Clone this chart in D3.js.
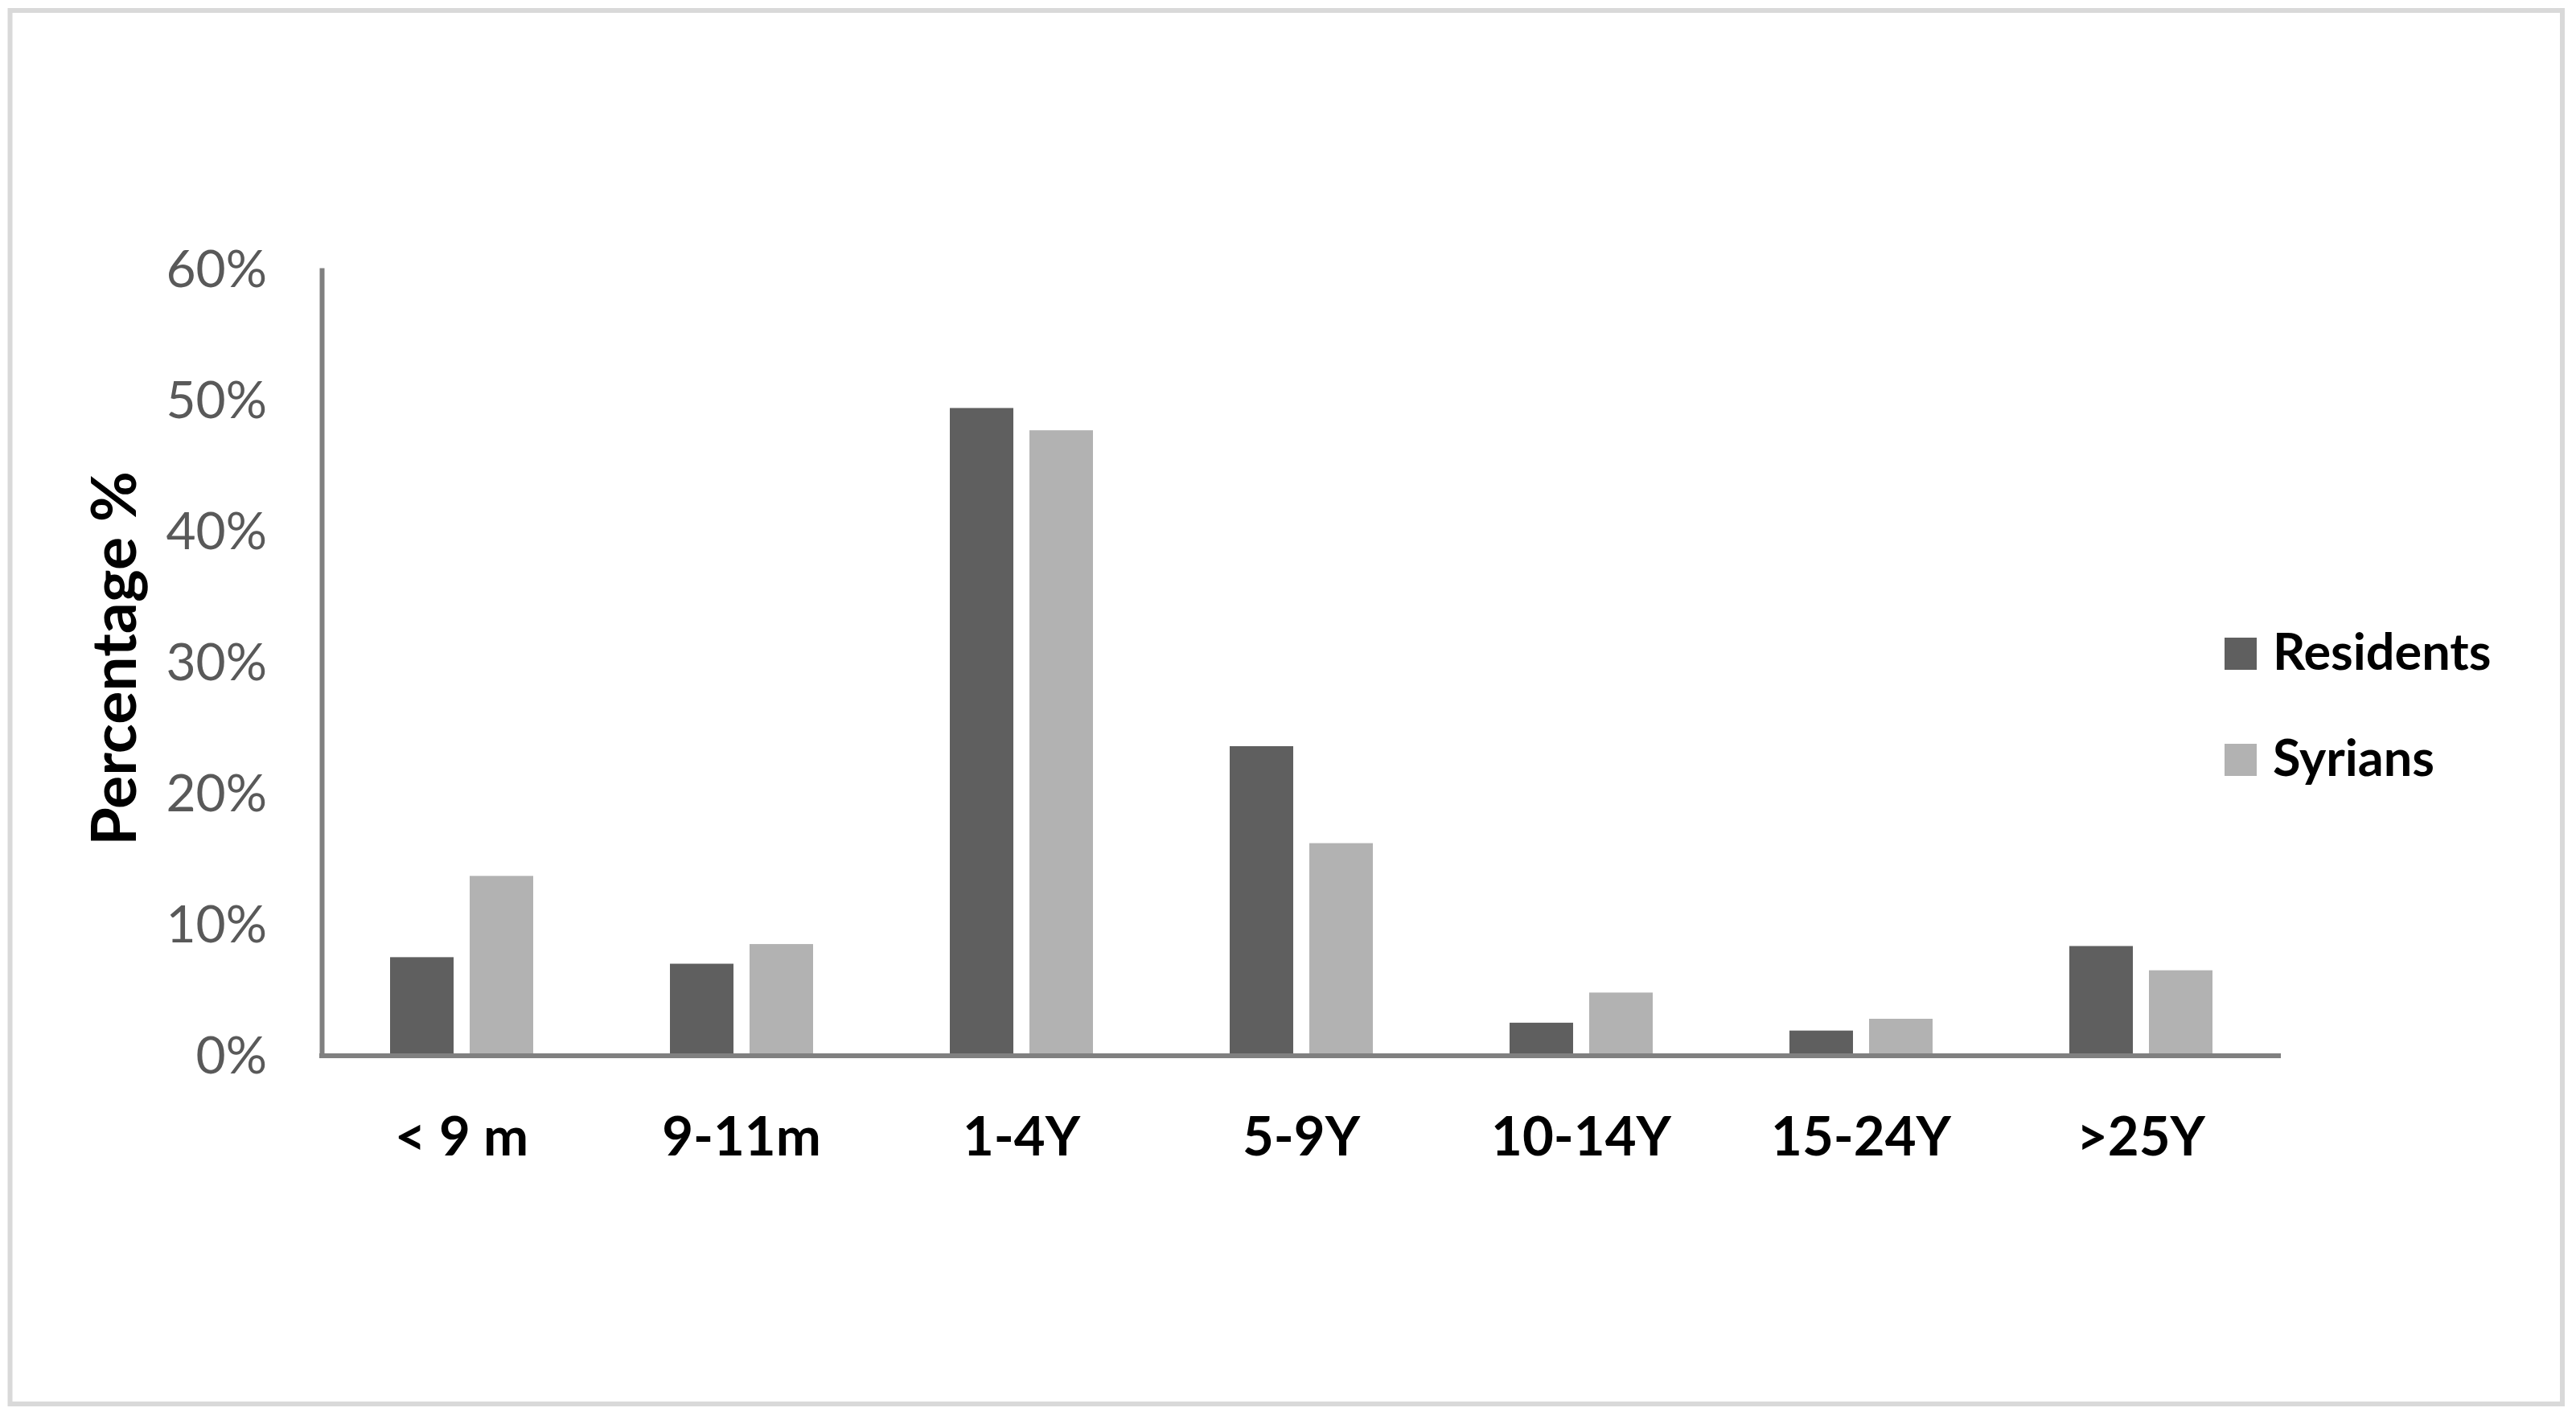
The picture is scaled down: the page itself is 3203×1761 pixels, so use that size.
<!DOCTYPE html>
<html>
<head>
<meta charset="utf-8">
<script src="https://cdn.jsdelivr.net/npm/d3@7"></script>
<style>
  html, body { margin: 0; padding: 0; background: #ffffff; }
  svg { display: block; }
</style>
</head>
<body>
<script>
const categories = ["< 9 m", "9-11m", "1-4Y", "5-9Y", "10-14Y", "15-24Y", ">25Y"];
const seriesNames = ["Residents", "Syrians"];
const residents = [7.4, 6.9, 49.3, 23.5, 2.4, 1.8, 8.25];
const syrians   = [13.6, 8.4, 47.6, 16.1, 4.7, 2.7, 6.4];
const yTicks = [0, 10, 20, 30, 40, 50, 60];
const colors = ["#5f5f5f", "#b2b2b2"];

const W = 3203, H = 1761;
const svg = d3.select("body").append("svg").attr("width", W).attr("height", H);

svg.append("rect").attr("x", 0).attr("y", 0).attr("width", W).attr("height", H).attr("fill", "#ffffff");
// outer frame
svg.append("rect").attr("x", 12.5).attr("y", 13).attr("width", 3173.5).attr("height", 1733)
  .attr("fill", "none").attr("stroke", "#d9d9d9").attr("stroke-width", 6);

const x0 = d3.scaleBand().domain(categories).range([400, 2836]).paddingInner(0).paddingOuter(0);
const bw = x0.bandwidth();
const x1 = d3.scaleBand().domain(seriesNames).range([bw * 0.2443, bw * 0.7557]).paddingInner(0.202).paddingOuter(0);
const y = d3.scaleLinear().domain([0, 60]).range([1311, 333]);

const data = categories.map((c, i) => ({ cat: c, vals: [residents[i], syrians[i]] }));

// bars
const groups = svg.append("g").selectAll("g").data(data).join("g")
  .attr("transform", d => `translate(${x0(d.cat)},0)`);
groups.selectAll("rect").data(d => d.vals.map((v, k) => ({ s: seriesNames[k], v, k })))
  .join("rect")
  .attr("x", d => x1(d.s))
  .attr("width", x1.bandwidth())
  .attr("y", d => y(d.v))
  .attr("height", d => y(0) - y(d.v))
  .attr("fill", d => colors[d.k]);

// y axis
const yAxis = svg.append("g").attr("transform", "translate(400,0)")
  .call(d3.axisLeft(y).tickValues(yTicks).tickFormat(d => d + "%").tickSize(0).tickPadding(68));
yAxis.select(".domain").attr("stroke", "#808080").attr("stroke-width", 6);
yAxis.selectAll("text").attr("font-family", "Lato").attr("font-size", 64)
  .attr("fill", "#595959").attr("dy", "0.36em");

// x axis
const xAxis = svg.append("g").attr("transform", "translate(0,1313)")
  .call(d3.axisBottom(x0).tickSize(0).tickSizeOuter(0).tickPadding(0));
xAxis.select(".domain").attr("stroke", "#808080").attr("stroke-width", 6)
  .attr("d", `M397,0H${x0.range()[1]}`);
xAxis.selectAll("text").attr("font-family", "Lato").attr("font-weight", "bold")
  .attr("font-size", 67).attr("fill", "#000000").attr("y", 124).attr("dy", 0);

// y axis title
svg.append("text").attr("transform", "translate(169,819) rotate(-90)")
  .attr("text-anchor", "middle").attr("font-family", "Lato").attr("font-weight", "bold")
  .attr("font-size", 77).attr("fill", "#000000").text("Percentage %");

// legend
const legend = svg.append("g").selectAll("g").data(seriesNames).join("g")
  .attr("transform", (d, i) => `translate(2766,${793 + i * 132})`);
legend.append("rect").attr("width", 40).attr("height", 40).attr("fill", (d, i) => colors[i]);
legend.append("text").attr("x", 60).attr("y", 40).attr("font-family", "Lato").attr("font-weight", "bold")
  .attr("font-size", 63).attr("fill", "#000000").text(d => d);
</script>
</body>
</html>
